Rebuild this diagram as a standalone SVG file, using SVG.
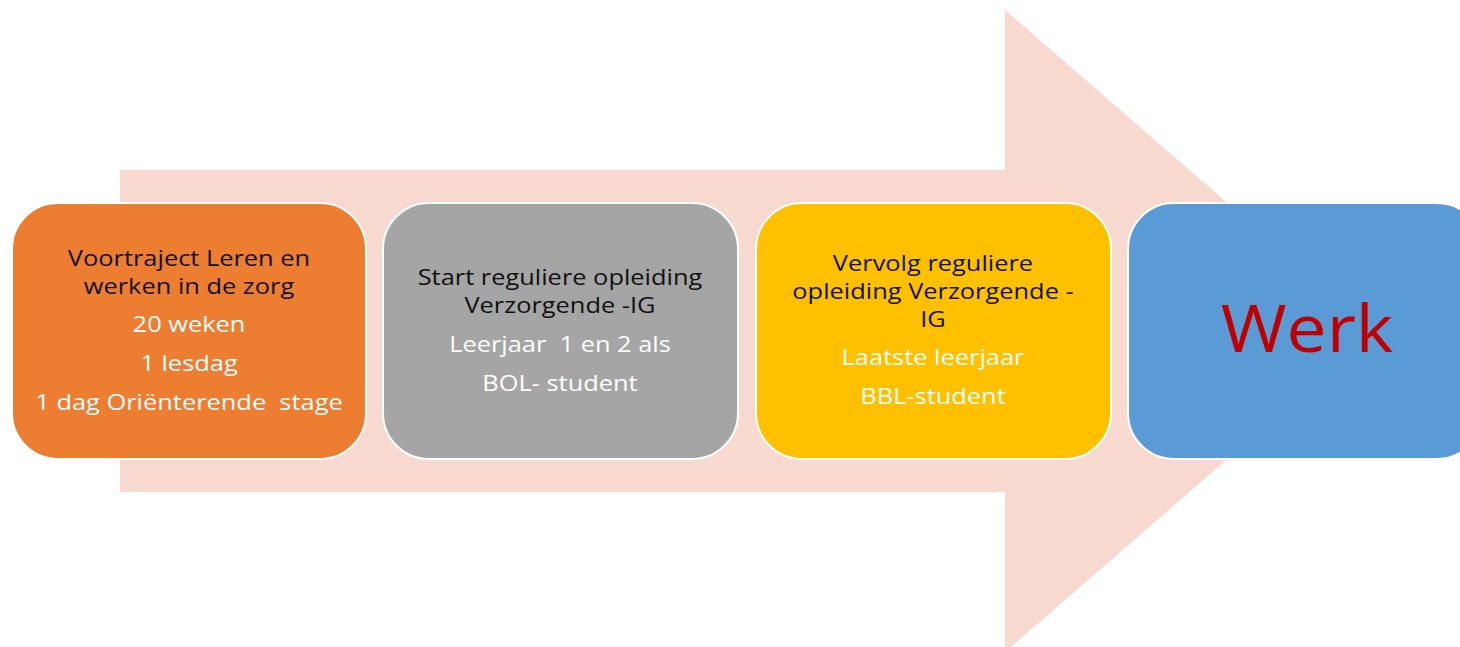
<svg xmlns="http://www.w3.org/2000/svg" width="1460" height="647" viewBox="0 0 1460 647">
<style>
.box{stroke:#ffffff;stroke-width:2}
.t{font-family:"Open Sans","Liberation Sans",sans-serif;font-size:21px;text-anchor:middle}
.d{fill:#111111}
.w{fill:#ffffff}
</style>
<rect width="1460" height="647" fill="#ffffff"/>
<g id="arrow">
<polygon points="120,170 1005,170 1005,10 1375,331 1005,652 1005,492 120,492" fill="#f7d9cf"/>
</g>
<g id="connectors"></g>
<g id="node1">
<rect class="box" x="12" y="203" width="354" height="256" rx="46" fill="#ed7d31"/>
<g transform="translate(189 0) scale(1.21 1)">
<text class="t d" x="0" y="266">Voortraject Leren en</text>
<text class="t d" x="0" y="294">werken in de zorg</text>
<text class="t w" x="0" y="332">20 weken</text>
<text class="t w" x="0" y="371">1 lesdag</text>
<text class="t w" x="0" y="410" xml:space="preserve">1 dag Oriënterende  stage</text>
</g>
</g>
<g id="node2">
<rect class="box" x="383" y="203" width="355" height="256" rx="46" fill="#a5a5a5"/>
<g transform="translate(560 0) scale(1.21 1)">
<text class="t d" x="0" y="285">Start reguliere opleiding</text>
<text class="t d" x="0" y="313">Verzorgende -IG</text>
<text class="t w" x="0" y="352" xml:space="preserve">Leerjaar  1 en 2 als</text>
<text class="t w" x="0" y="391">BOL- student</text>
</g>
</g>
<g id="node3">
<rect class="box" x="756" y="203" width="355" height="256" rx="46" fill="#ffc000"/>
<g transform="translate(933 0) scale(1.21 1)">
<text class="t d" x="0" y="271">Vervolg reguliere</text>
<text class="t d" x="0" y="299">opleiding Verzorgende -</text>
<text class="t d" x="0" y="327">IG</text>
<text class="t w" x="0" y="365">Laatste leerjaar</text>
<text class="t w" x="0" y="404">BBL-student</text>
</g>
</g>
<g id="node4">
<rect class="box" x="1128" y="203" width="355" height="256" rx="46" fill="#5b9bd5"/>
<text transform="translate(1307 0) scale(1.08 1)" x="0" y="352" font-family="'Open Sans','Liberation Sans',sans-serif" font-size="66" fill="#c00000" text-anchor="middle">Werk</text>
</g>
</svg>
